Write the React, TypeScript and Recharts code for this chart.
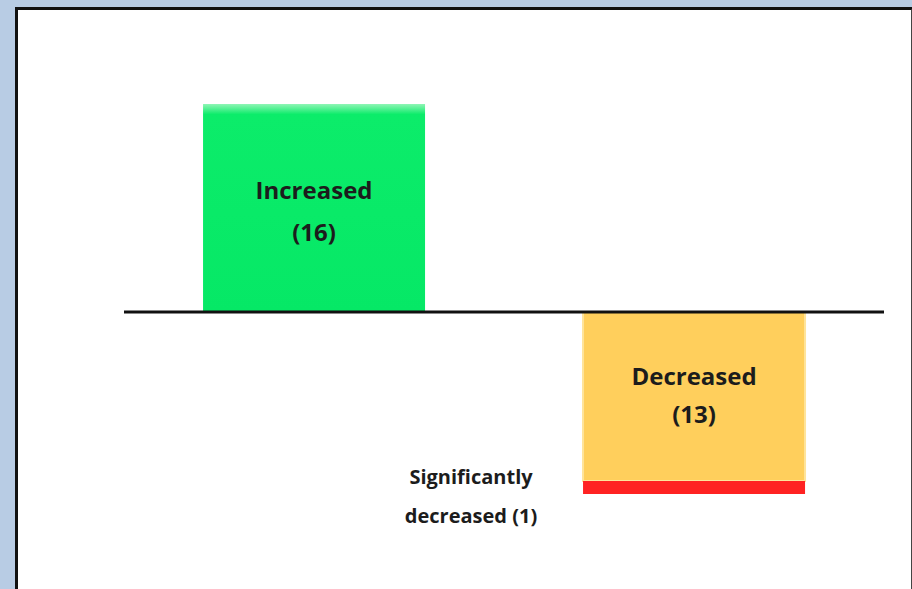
import { BarChart, Bar, XAxis, YAxis, ReferenceLine, LabelList } from 'recharts'

// chart values
const categories = ['Increased', 'Decreased']
const increasedCounts = [16, 0]
const decreasedCounts = [0, -13]
const significantCounts = [0, -1]
const yTicks = [-20, 20]

const data = categories.map((c, i) => ({
  category: c,
  increased: increasedCounts[i],
  decreased: decreasedCounts[i],
  significant: significantCounts[i],
}))

const FONT = '"Open Sans", "Noto Sans", sans-serif'

// two-line label inside a bar: "Name" / "(n)"
function makeInsideLabel(name: string, first: number, second: number) {
  return function InsideLabel(props: any) {
    const { x, y, width, height, value } = props
    if (!value) return null
    const cx = x + width / 2
    const top = Math.min(y, y + height)
    return (
      <g>
        <text x={cx} y={top + first} textAnchor="middle" fontFamily={FONT} fontWeight={700} fontSize={24} fill="#1c1c1c">
          {name}
        </text>
        <text x={cx} y={top + second} textAnchor="middle" fontFamily={FONT} fontWeight={700} fontSize={24} fill="#1c1c1c">
          ({Math.abs(value)})
        </text>
      </g>
    )
  }
}

// label to the left of the thin red segment
function SignificantLabel(props: any) {
  const { x, y, height, value } = props
  if (!value) return null
  const top = Math.min(y, y + height)
  const cx = x - 112
  return (
    <g>
      <text x={cx} y={top + 3} textAnchor="middle" fontFamily={FONT} fontWeight={700} fontSize={20} fill="#1c1c1c">
        Significantly
      </text>
      <text x={cx} y={top + 42} textAnchor="middle" fontFamily={FONT} fontWeight={700} fontSize={20} fill="#1c1c1c">
        decreased ({Math.abs(value)})
      </text>
    </g>
  )
}

export default function App() {
  return (
    <div style={{ position: 'fixed', left: 0, top: 0, width: 912, height: 589, background: '#b8cce4', overflow: 'hidden' }}>
      <div
        style={{
          position: 'absolute',
          left: 15,
          top: 7,
          width: 893,
          height: 600,
          background: '#fff',
          borderTop: '3px solid #111',
          borderLeft: '3px solid #111',
          borderRight: '2px solid #444',
        }}
      />
      <div style={{ position: 'absolute', left: 0, top: 0 }}>
        <BarChart
          width={912}
          height={589}
          data={data}
          stackOffset="sign"
          barCategoryGap="20.8%"
          margin={{ top: 52, right: 28, left: 124, bottom: 17 }}
        >
          <defs>
            <linearGradient id="greenFill" x1="0" y1="0" x2="0" y2="1">
              <stop offset="0" stopColor="#8ff5b5" />
              <stop offset="0.05" stopColor="#0cec6a" />
              <stop offset="1" stopColor="#06e866" />
            </linearGradient>
          </defs>
          <XAxis dataKey="category" hide />
          <YAxis hide domain={[yTicks[0], yTicks[1]]} ticks={yTicks} />
          <Bar dataKey="increased" stackId="a" fill="url(#greenFill)" isAnimationActive={false}>
            <LabelList dataKey="increased" content={makeInsideLabel(categories[0], 95, 137)} />
          </Bar>
          <Bar dataKey="decreased" stackId="a" fill="#ffcf5c" stroke="#ffe49a" strokeWidth={2} isAnimationActive={false}>
            <LabelList dataKey="decreased" content={makeInsideLabel(categories[1], 73, 111)} />
          </Bar>
          <Bar dataKey="significant" stackId="a" fill="#ff2222" isAnimationActive={false}>
            <LabelList dataKey="significant" content={SignificantLabel} />
          </Bar>
          <ReferenceLine y={0} stroke="#111" strokeWidth={3} />
        </BarChart>
      </div>
    </div>
  )
}
